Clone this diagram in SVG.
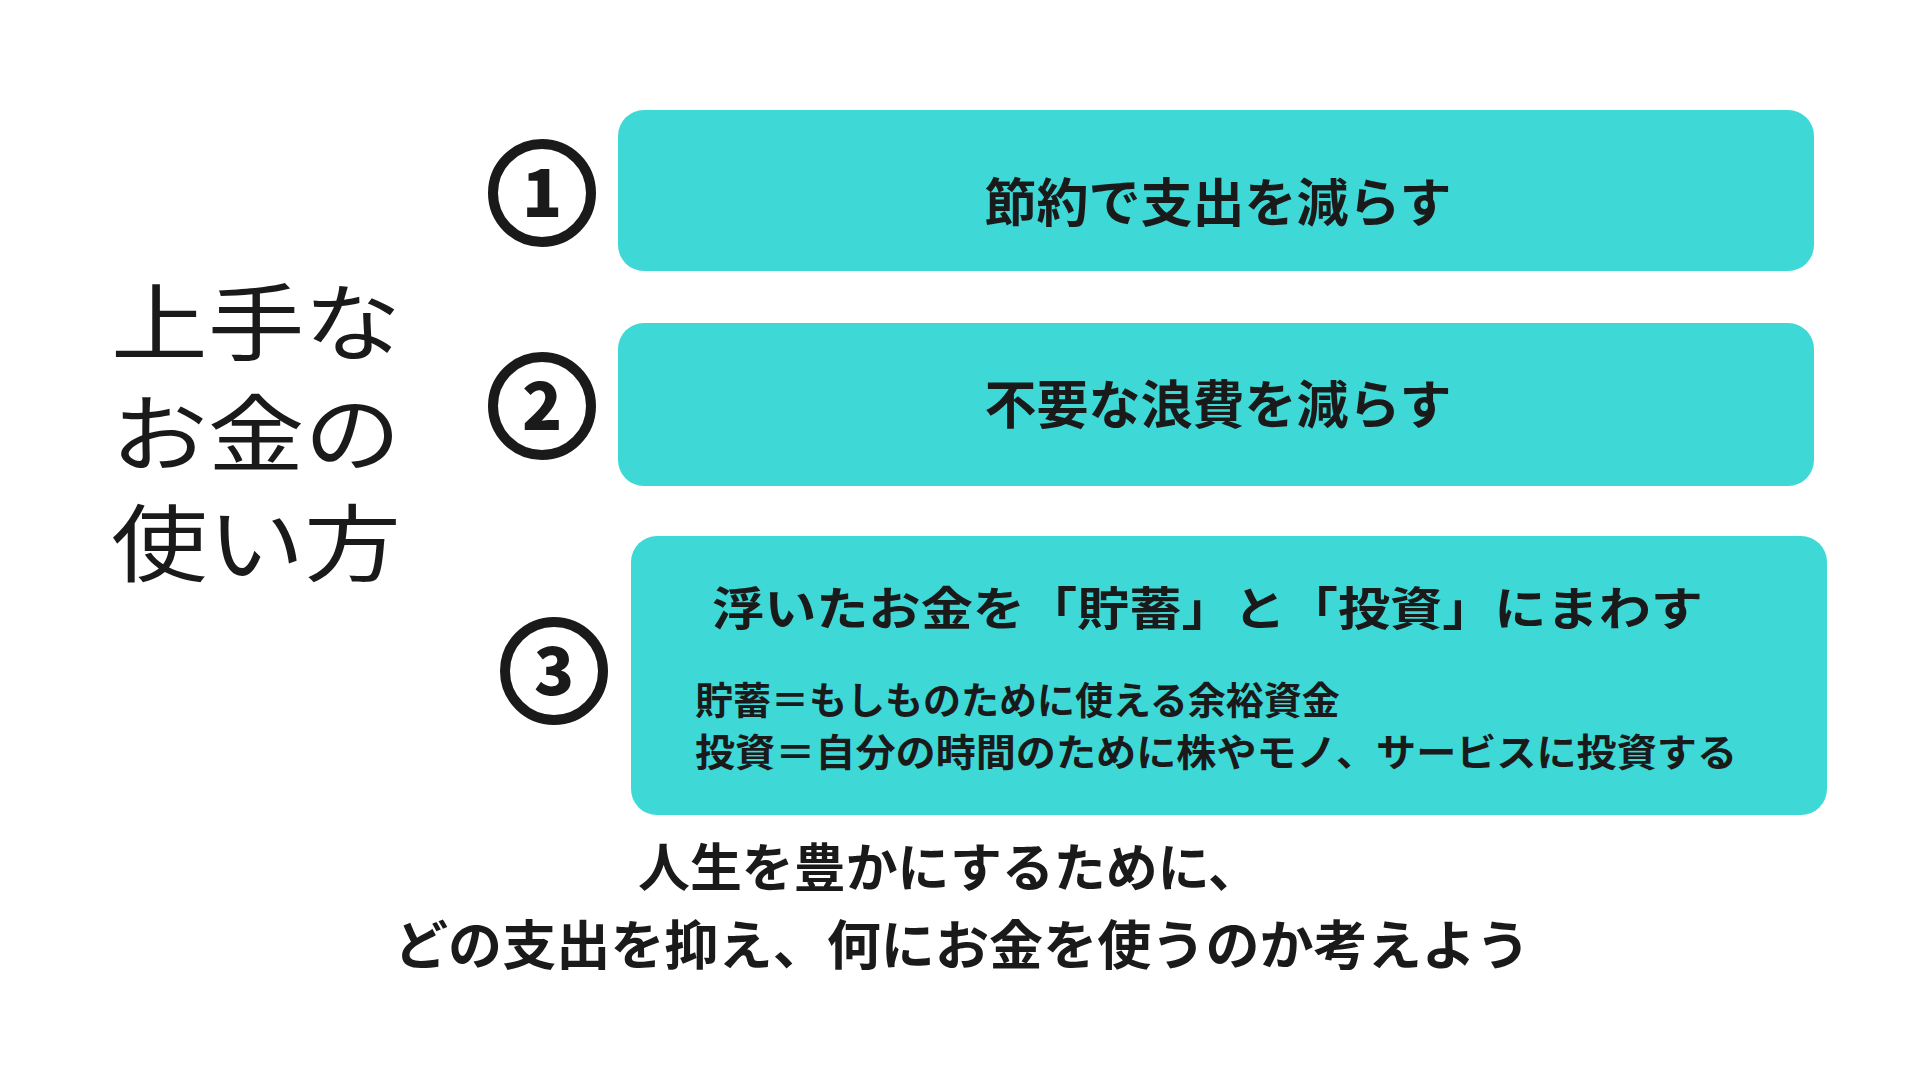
<svg xmlns="http://www.w3.org/2000/svg" width="1920" height="1080" viewBox="0 0 1920 1080">
<style>
.box{fill:#3ed9d7}
.t{font-family:"Noto Sans CJK JP",sans-serif;fill:#1a1a1a}
.b{font-weight:700}
.c{fill:none;stroke:#1a1a1a;stroke-width:10}
.n{font-family:"Noto Sans CJK JP",sans-serif;font-weight:900;font-size:66px;fill:#1a1a1a;text-anchor:middle}
</style>
<rect width="1920" height="1080" fill="#fff"/>
<g id="title">
<text class="t" x="111" y="354" font-size="84" textLength="290" lengthAdjust="spacingAndGlyphs">上手な</text>
<text class="t" x="111" y="465" font-size="84" textLength="290" lengthAdjust="spacingAndGlyphs">お金の</text>
<text class="t" x="111" y="575" font-size="84" textLength="290" lengthAdjust="spacingAndGlyphs">使い方</text>
</g>
<g id="num1"><circle class="c" cx="542" cy="193" r="49"/><text class="n" x="542" y="217">1</text></g>
<g id="num2"><circle class="c" cx="542" cy="406" r="49"/><text class="n" x="542" y="430">2</text></g>
<g id="num3"><circle class="c" cx="554" cy="671" r="49"/><text class="n" x="554" y="695">3</text></g>
<g id="box1"><rect class="box" x="618" y="110" width="1196" height="161" rx="26"/>
<text class="t b" x="1218" y="222" font-size="52" text-anchor="middle">節約で支出を減らす</text></g>
<g id="box2"><rect class="box" x="618" y="323" width="1196" height="163" rx="26"/>
<text class="t b" x="1218" y="424" font-size="52" text-anchor="middle">不要な浪費を減らす</text></g>
<g id="box3"><rect class="box" x="631" y="536" width="1196" height="279" rx="26"/>
<text class="t b" x="712" y="625" font-size="46" textLength="991" lengthAdjust="spacingAndGlyphs">浮いたお金を「貯蓄」と「投資」にまわす</text>
<text class="t b" x="695" y="714" font-size="38">貯蓄＝もしものために使える余裕資金</text>
<text class="t b" x="695" y="766" font-size="38" textLength="1042" lengthAdjust="spacingAndGlyphs">投資＝自分の時間のために株やモノ、サービスに投資する</text></g>
<g id="footer">
<text class="t b" x="638" y="887" font-size="52" textLength="622" lengthAdjust="spacingAndGlyphs">人生を豊かにするために、</text>
<text class="t b" x="394" y="965" font-size="53" textLength="1136" lengthAdjust="spacingAndGlyphs">どの支出を抑え、何にお金を使うのか考えよう</text>
</g>
<g id="connectors"/>
</svg>
